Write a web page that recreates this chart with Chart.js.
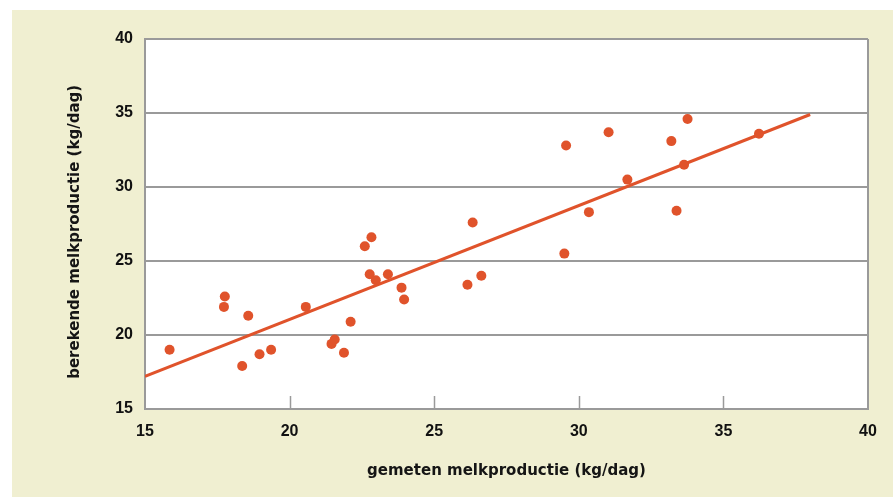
<!DOCTYPE html>
<html>
<head>
<meta charset="utf-8">
<script src="https://cdn.jsdelivr.net/npm/chart.js@4"></script>
<style>
  html, body { margin: 0; padding: 0; background: #ffffff; width: 893px; height: 497px; overflow: hidden; }
  #wrap { position: absolute; left: 12px; top: 10px; width: 881px; height: 487px; background: #f0efd1; }
  canvas { display: block; }
</style>
</head>
<body>
<div id="wrap"><canvas id="c" width="881" height="487"></canvas></div>
<script>
// gemeten (x) en berekende (y) melkproductie, kg/dag
const measured = [15.85, 17.76, 17.73, 18.57, 18.36, 18.96, 19.36, 20.56, 21.45, 21.56, 21.88, 22.11,
                  22.60, 22.83, 22.77, 22.98, 23.40, 23.87, 23.96, 26.15, 26.63, 26.33, 29.50, 29.56,
                  31.03, 30.35, 31.68, 33.20, 33.76, 33.64, 33.38, 36.23];
const calculated = [19.0, 22.6, 21.9, 21.3, 17.9, 18.7, 19.0, 21.9, 19.4, 19.7, 18.8, 20.9,
                    26.0, 26.6, 24.1, 23.7, 24.1, 23.2, 22.4, 23.4, 24.0, 27.6, 25.5, 32.8,
                    33.7, 28.3, 30.5, 33.1, 34.6, 31.5, 28.4, 33.6];
// regressielijn
const fitX = [15, 38];
const fitY = [17.2, 34.9];
// ticks
const xTicks = [15, 20, 25, 30, 35, 40];
const yTicks = [15, 20, 25, 30, 35, 40];
const xTitle = 'gemeten melkproductie (kg/dag)';
const yTitle = 'berekende melkproductie (kg/dag)\u00a0\u00a0\u00a0';

const RED = '#e0532b';
const GRID = '#9a9a9a';
const tickFont = { family: "'Liberation Sans', Arial, sans-serif", size: 16, weight: 'bold' };
const titleFont = { family: "'DejaVu Sans', sans-serif", size: 15, weight: 'bold' };

const plotBg = {
  id: 'plotBg',
  beforeDraw(chart) {
    const { ctx, chartArea: a } = chart;
    ctx.save();
    ctx.fillStyle = '#ffffff';
    ctx.fillRect(a.left, a.top, a.right - a.left, a.bottom - a.top);
    ctx.restore();
  }
};

const innerTicks = {
  id: 'innerTicks',
  beforeDatasetsDraw(chart) {
    const { ctx, chartArea, scales } = chart;
    const xs = scales.x;
    ctx.save();
    ctx.strokeStyle = GRID;
    ctx.lineWidth = 1.5;
    xTicks.forEach(v => {
      if (v <= xs.min || v >= xs.max) return;
      const px = Math.round(xs.getPixelForValue(v)) + 0.5;
      ctx.beginPath();
      ctx.moveTo(px, chartArea.bottom);
      ctx.lineTo(px, chartArea.bottom - 13);
      ctx.stroke();
    });
    ctx.restore();
  }
};

new Chart(document.getElementById('c'), {
  type: 'scatter',
  data: {
    datasets: [
      {
        type: 'line',
        data: fitX.map((x, i) => ({ x: x, y: fitY[i] })),
        borderColor: RED,
        borderWidth: 3,
        pointRadius: 0,
        fill: false,
        order: 2
      },
      {
        type: 'scatter',
        data: measured.map((x, i) => ({ x: x, y: calculated[i] })),
        backgroundColor: RED,
        borderColor: RED,
        borderWidth: 0,
        pointRadius: 5,
        order: 1
      }
    ]
  },
  options: {
    responsive: false,
    animation: false,
    layout: { padding: { top: 29, right: 25, left: 0, bottom: 0 } },
    plugins: { legend: { display: false }, tooltip: { enabled: false } },
    scales: {
      x: {
        type: 'linear',
        min: 15, max: 40,
        afterBuildTicks: s => { s.ticks = xTicks.map(v => ({ value: v })); },
        afterFit: s => { s.height = 88; },
        ticks: { font: tickFont, color: '#111', padding: 13, maxRotation: 0 },
        grid: {
          drawTicks: false,
          lineWidth: 2,
          color: c => (c.tick && (c.tick.value === 15 || c.tick.value === 40)) ? GRID : 'rgba(0,0,0,0)'
        },
        border: { display: true, color: GRID, width: 2 },
        title: { display: true, text: xTitle, font: titleFont, color: '#151515', padding: { top: 0, bottom: 17 } }
      },
      y: {
        type: 'linear',
        min: 15, max: 40,
        afterBuildTicks: s => { s.ticks = yTicks.map(v => ({ value: v })); },
        afterFit: s => { s.width = 133; },
        ticks: { font: tickFont, color: '#111', padding: 12 },
        grid: { drawTicks: false, lineWidth: 2, color: GRID },
        border: { display: true, color: GRID, width: 2 },
        title: { display: true, text: yTitle, font: titleFont, color: '#151515', padding: { top: 54, bottom: 0 } }
      }
    }
  },
  plugins: [plotBg, innerTicks]
});
</script>
</body>
</html>
